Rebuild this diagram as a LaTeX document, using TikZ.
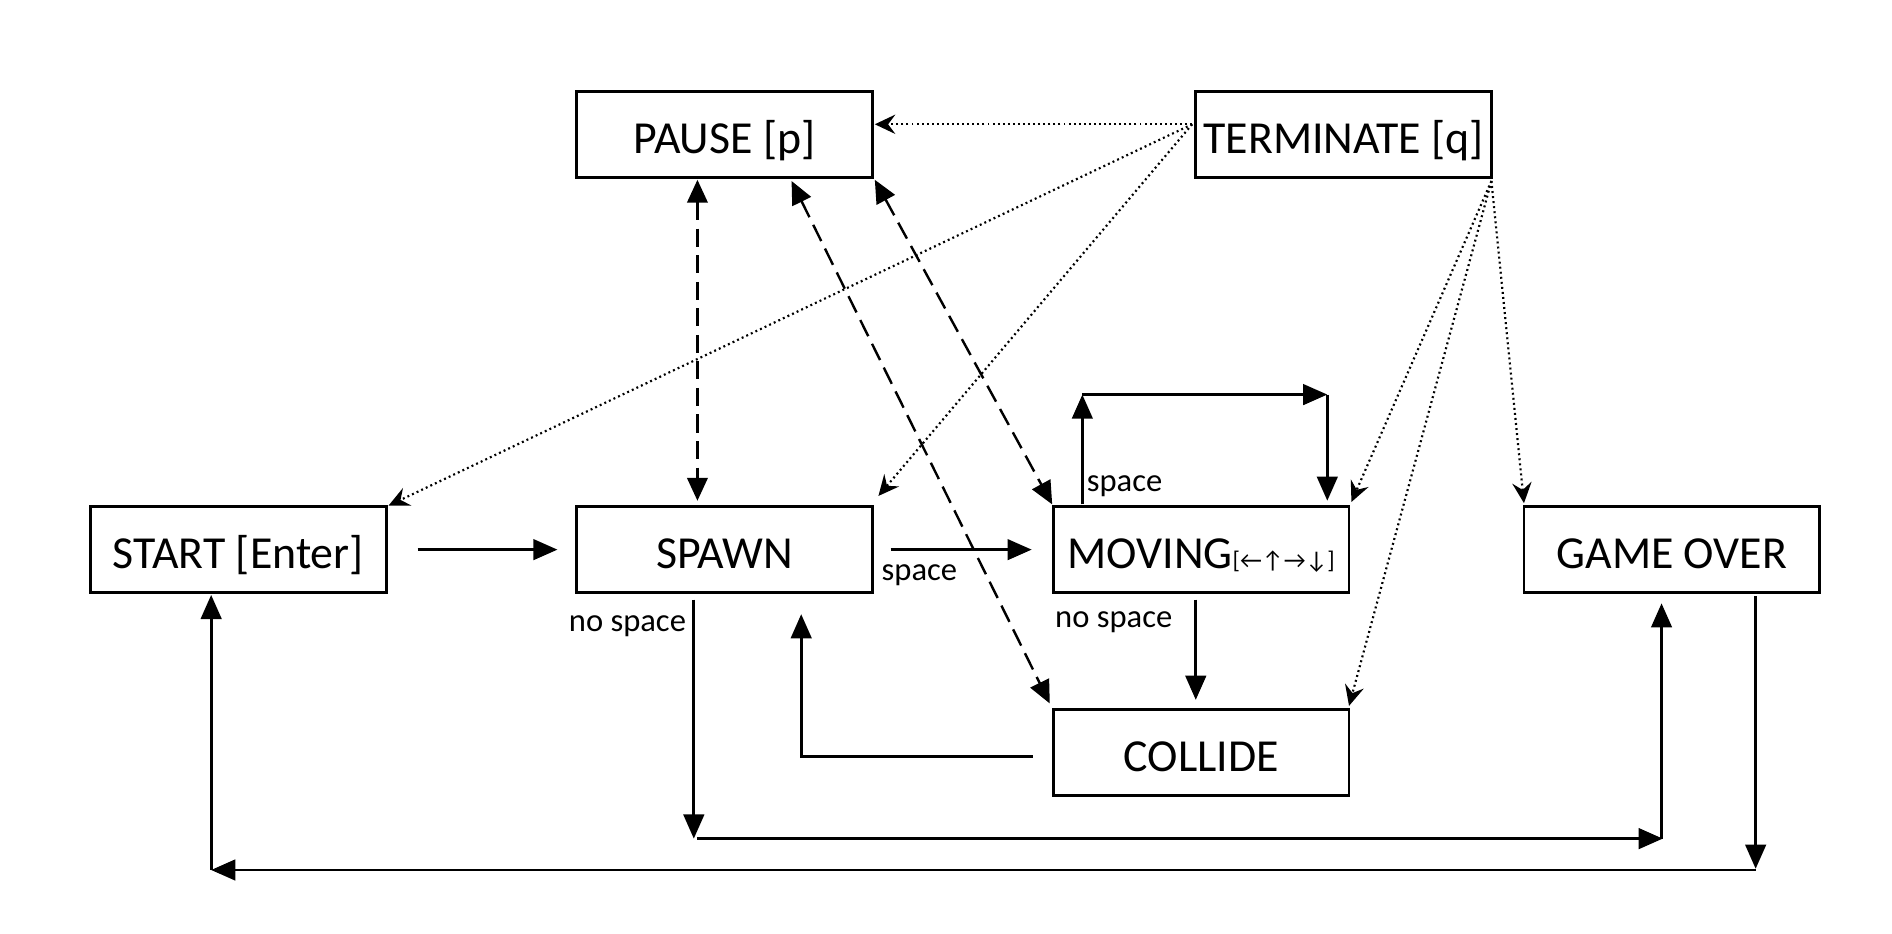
\documentclass[tikz,border=0pt]{standalone}
\usepackage{fontspec}
\setmainfont{Carlito}
\usetikzlibrary{arrows.meta,calc}
\begin{document}
\begin{tikzpicture}[x=1pt,y=-1pt,
  state/.style={draw,line width=2.3pt,minimum width=245pt,minimum height=71pt,inner sep=0pt,text height=31pt,text depth=0pt,font=\fontsize{38}{44}\selectfont},
  lbl/.style={font=\fontsize{27}{32}\selectfont,inner sep=0pt},
  solidarr/.style={line width=2.4pt,-{Triangle[length=20pt,width=17pt]}},
  dasharr/.style={line width=2pt,dash pattern=on 15pt off 7pt,{Triangle[length=19pt,width=17pt]}-{Triangle[length=19pt,width=17pt]}},
  dotarr/.style={line width=1.8pt,dash pattern=on 1.6pt off 2.6pt,-{Stealth[length=17pt,width=16pt,inset=6pt]}}]
\useasboundingbox (0,0) rectangle (1568,774);
\node[state] (pause) at (600.5,111.5) {PAUSE [p]};
\node[state] (term) at (1113.5,111.5) {TERMINATE [q]};
\node[state] (start) at (197.5,455.5) {START [Enter]};
\node[state] (spawn) at (600.5,455.5) {SPAWN};
\node[state] (moving) at (995.5,455.5) {MOVING{\fontsize{20}{24}\selectfont[←↑→↓]}};
\node[state] (over) at (1385.5,455.5) {GAME OVER};
\node[state] (collide) at (995.5,623.5) {COLLIDE};
% labels
\node[lbl] (lspace1) at (762,477) {space};
\node[lbl] (lspace2) at (932,403) {space};
\node[lbl] (lnos1) at (923,516) {no space};
\node[lbl] (lnos2) at (520,519) {no space};
% coordinates
\coordinate (a1) at (346,455.5); \coordinate (a2) at (462,455.5);
\coordinate (b1) at (738,455.5); \coordinate (b2) at (855,455.5);
\coordinate (l1) at (897,418); \coordinate (l2) at (897,327);
\coordinate (l3) at (1100,327); \coordinate (l4) at (1100,415);
\coordinate (m1) at (991,497); \coordinate (m2) at (991,580);
\coordinate (c1) at (856,627); \coordinate (c2) at (664,627); \coordinate (c3) at (664,509);
\coordinate (s1) at (575,497); \coordinate (s2) at (575,695);
\coordinate (s3) at (578,695); \coordinate (s4) at (1378,695);
\coordinate (s5) at (1377,695); \coordinate (s6) at (1377,500);
\coordinate (g1) at (1455,494); \coordinate (g2) at (1455,720);
\coordinate (g3) at (1455,721); \coordinate (g4) at (175,721);
\coordinate (g5) at (175,721); \coordinate (g6) at (175,493);
\coordinate (d1) at (578,149); \coordinate (d2) at (578,415);
\coordinate (d3) at (656,150); \coordinate (d4) at (870,583);
\coordinate (d5) at (725,149); \coordinate (d6) at (872,418);
\coordinate (t1) at (988,103); \coordinate (t2) at (1236,150);
\coordinate (p1) at (725,103); \coordinate (p2) at (322,419); \coordinate (p3) at (728,411);
\coordinate (p4) at (1120,416); \coordinate (p5) at (1118,585); \coordinate (p6) at (1263,417);
% solid arrows
\draw[solidarr] (a1) -- (a2);
\draw[solidarr] (b1) -- (b2);
\draw[solidarr] (l1) -- (l2);
\draw[solidarr] (l2) -- (l3);
\draw[solidarr] (l3) -- (l4);
\draw[solidarr] (m1) -- (m2);
\draw[solidarr] (c1) -- (c2) -- (c3);
\draw[solidarr] (s1) -- (s2);
\draw[solidarr] (s3) -- (s4);
\draw[solidarr] (s5) -- (s6);
\draw[solidarr] (g1) -- (g2);
\draw[solidarr] (g3) -- (g4);
\draw[solidarr] (g5) -- (g6);
% dashed
\draw[dasharr] (d1) -- (d2);
\draw[dasharr] (d3) -- (d4);
\draw[dasharr] (d5) -- (d6);
% dotted
\draw[dotarr] (t1) -- (p1);
\draw[dotarr] (t1) -- (p2);
\draw[dotarr] (t1) -- (p3);
\draw[dotarr] (t2) -- (p4);
\draw[dotarr] (t2) -- (p5);
\draw[dotarr] (t2) -- (p6);
\end{tikzpicture}
\end{document}
